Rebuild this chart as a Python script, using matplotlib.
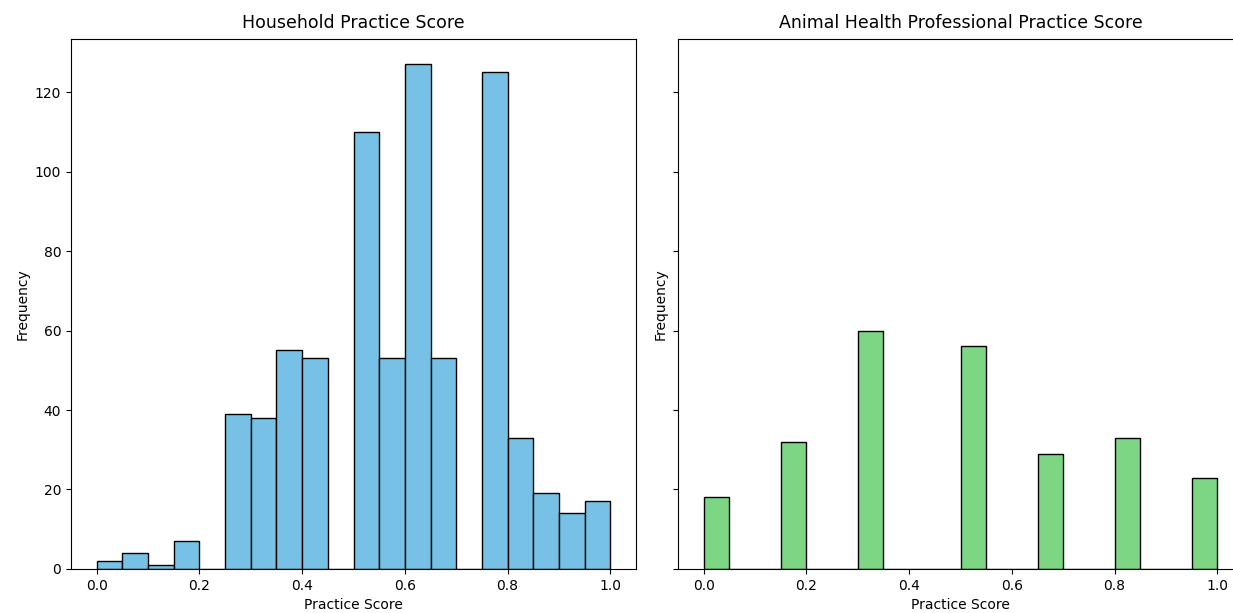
import numpy as np
import matplotlib
matplotlib.use('Agg')
import matplotlib.pyplot as plt

# bin edges shared by both histograms (width 0.05)
bin_edges = np.linspace(0, 1, 21)

# counts per bin
household_counts = [2, 4, 1, 7, 0, 39, 38, 55, 53, 0,
                    110, 53, 127, 53, 0, 125, 33, 19, 14, 17]
professional_counts = [18, 0, 0, 32, 0, 0, 60, 0, 0, 0,
                       56, 0, 0, 29, 0, 0, 33, 0, 0, 23]

titles = ['Household Practice Score', 'Animal Health Professional Practice Score']
colors = ['#78C1E6', '#7DD683']

fig = plt.figure(figsize=(12.33, 6.13), dpi=100)
ax1 = fig.add_axes([0.0576, 0.0718, 0.4582, 0.8646])
ax2 = fig.add_axes([0.5499, 0.0718, 0.4582, 0.8646], sharey=ax1)

centers = (bin_edges[:-1] + bin_edges[1:]) / 2
for ax, counts, title, color in zip([ax1, ax2], [household_counts, professional_counts],
                                    titles, colors):
    ax.hist(centers, bins=bin_edges, weights=counts, color=color,
            edgecolor='black', linewidth=1)
    ax.set_title(title, fontsize=12.5, pad=8)
    ax.set_xlabel('Practice Score', fontsize=10)
    ax.set_ylabel('Frequency', fontsize=10)

ax2.tick_params(labelleft=False)

fig.savefig('out.png', dpi=100)
